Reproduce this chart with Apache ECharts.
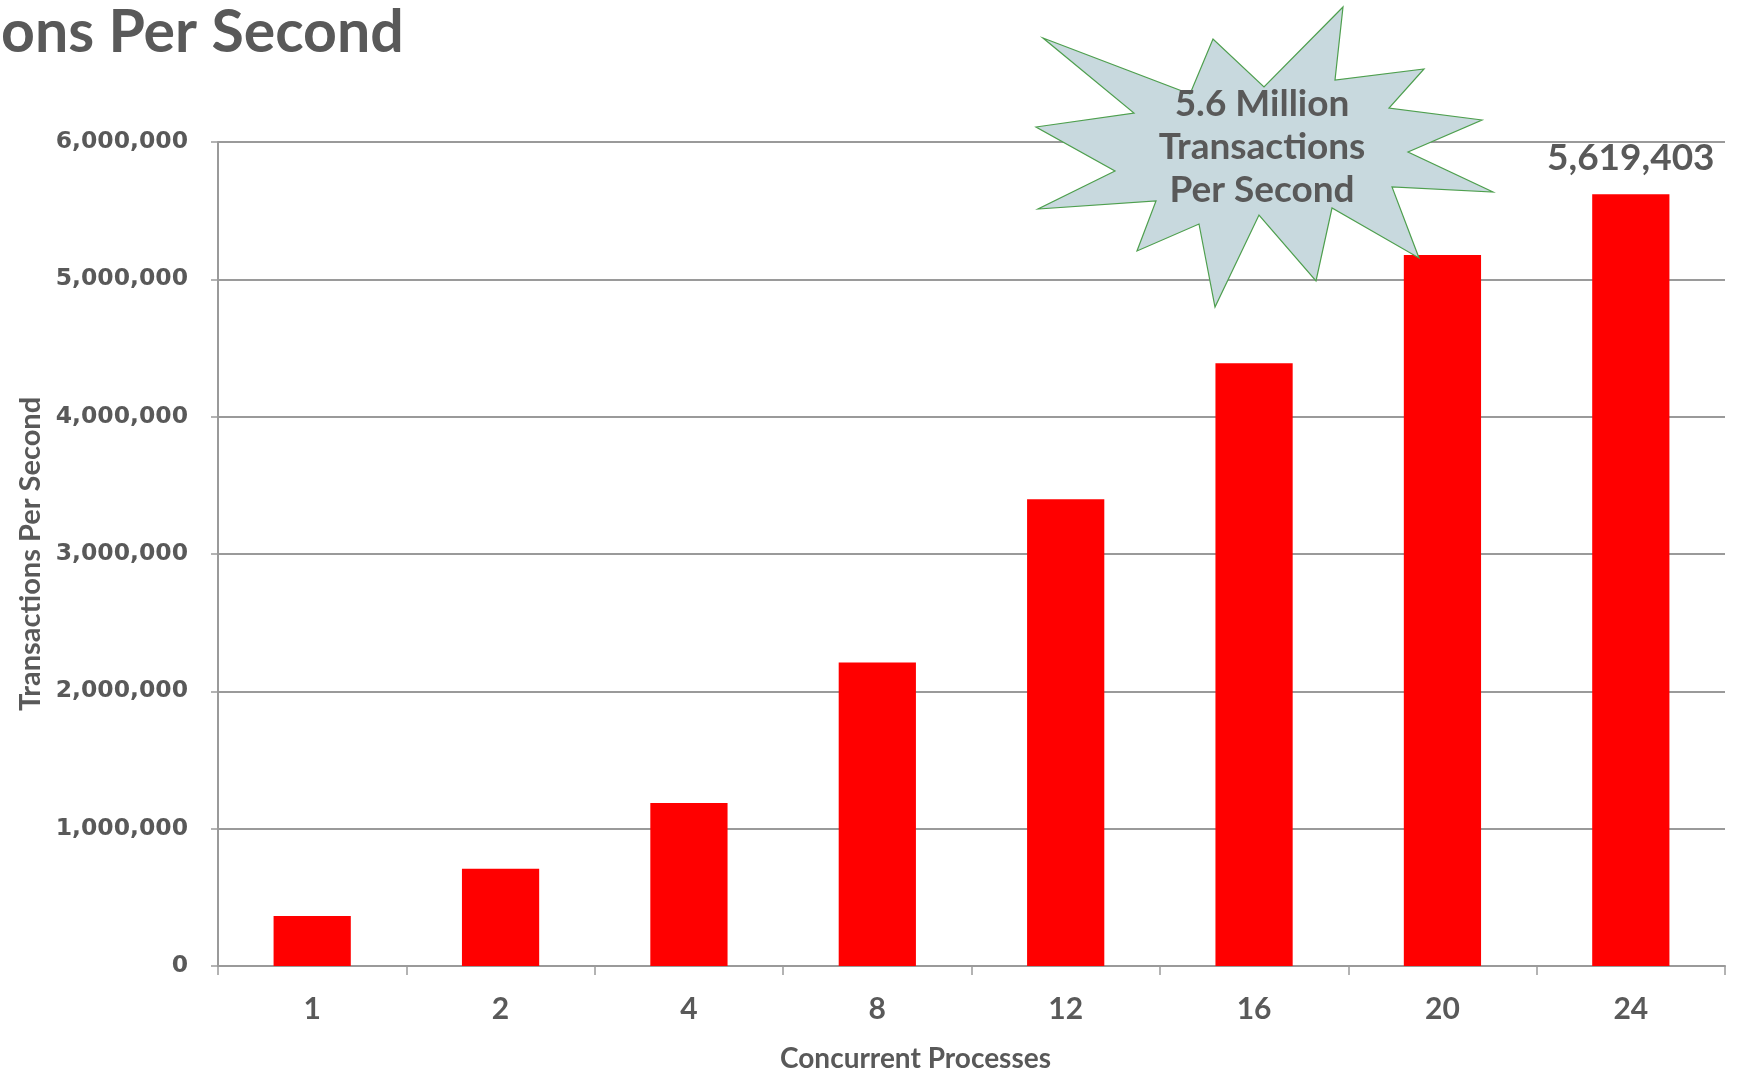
<!DOCTYPE html>
<html>
<head>
<meta charset="utf-8">
<script src="https://cdn.jsdelivr.net/npm/echarts@6/dist/echarts.min.js"></script>
<style>
html,body{margin:0;padding:0;background:#fff;}
#chart{width:1742px;height:1071px;}
</style>
</head>
<body>
<div id="chart"></div>
<script>
// ---- data ----
var categories = ['1', '2', '4', '8', '12', '16', '20', '24'];
var tpsValues = [364000, 708000, 1187000, 2210000, 3399000, 4389000, 5177000, 5619403];
var yTicks = [0, 1000000, 2000000, 3000000, 4000000, 5000000, 6000000];
var titleText = 'ons Per Second';
var calloutLines = ['5.6 Million', 'Transactions', 'Per Second'];
var xAxisName = 'Concurrent Processes';
var yAxisName = 'Transactions Per Second';
var labelledIndex = 7;

// starburst outline (annotation shape, pixel coordinates)
var starPoints = [
  [1043, 38], [1190, 94], [1213, 39], [1264, 87], [1343, 7], [1335, 80],
  [1424, 69], [1389, 108], [1482, 120], [1408, 152], [1493, 192], [1392, 187],
  [1419, 258], [1332, 208], [1316, 281], [1259, 215], [1215, 307], [1199, 224],
  [1137, 251], [1156, 201], [1038, 209], [1115, 171], [1036, 127], [1134, 113]
];

var GRAY = '#595959';
var LINE = '#9a9a9a';
var NARROW = "'Liberation Sans Narrow', 'Lato', sans-serif";

function fmt(v) { return v.toString().replace(/\B(?=(\d{3})+(?!\d))/g, ','); }

var chart = echarts.init(document.getElementById('chart'), null, {renderer: 'canvas'});

var barData = tpsValues.map(function (v, i) {
  if (i === labelledIndex) {
    return {
      value: v,
      label: {
        show: true, position: 'top', distance: 18,
        formatter: function (p) { return fmt(p.value); },
        fontFamily: 'Lato', fontWeight: 'bold', fontSize: 37, color: GRAY
      }
    };
  }
  return v;
});

var option = {
  animation: false,
  backgroundColor: '#ffffff',
  grid: {left: 218, right: 17, top: 142, bottom: 105, containLabel: false, outerBoundsMode: 'none'},
  xAxis: {
    type: 'category',
    data: categories,
    boundaryGap: true,
    name: xAxisName,
    nameLocation: 'middle',
    nameGap: 79,
    nameTextStyle: {fontFamily: NARROW, fontWeight: 'bold', fontSize: 28, color: GRAY, padding: [0, 112, 0, 0]},
    axisLine: {show: true, lineStyle: {color: LINE, width: 2}},
    axisTick: {show: true, alignWithLabel: false, length: 9, lineStyle: {color: LINE, width: 1.5}},
    axisLabel: {margin: 28, fontFamily: NARROW, fontWeight: 'bold', fontSize: 30, color: GRAY},
    splitLine: {show: false}
  },
  yAxis: {
    type: 'value',
    min: yTicks[0],
    max: yTicks[yTicks.length - 1],
    interval: yTicks[1] - yTicks[0],
    name: yAxisName,
    nameLocation: 'middle',
    nameRotate: 90,
    nameGap: 173,
    nameTextStyle: {fontFamily: NARROW, fontWeight: 'bold', fontSize: 29, color: GRAY},
    axisLine: {show: true, lineStyle: {color: LINE, width: 2}},
    axisTick: {show: true, length: 7, lineStyle: {color: LINE, width: 1.5}},
    axisLabel: {
      margin: 30, fontFamily: 'DejaVu Sans', fontWeight: 'bold', fontSize: 23.5, color: GRAY,
      formatter: function (v) { return fmt(v); }
    },
    splitLine: {show: true, lineStyle: {color: LINE, width: 2}}
  },
  series: [{
    type: 'bar',
    data: barData,
    barWidth: '41%',
    itemStyle: {color: '#ff0000'},
    z: 2
  }],
  graphic: [
    {
      type: 'text', left: 1, top: 3, z: 10,
      style: {text: titleText, fontFamily: 'Lato', fontWeight: 'bold', fontSize: 59, fill: GRAY}
    },
    {
      type: 'polygon', z: 20,
      shape: {points: starPoints},
      style: {fill: '#c8d9de', stroke: '#4e9f4e', lineWidth: 1.2}
    },
    {
      type: 'text', x: 1262, y: 147, z: 21,
      style: {
        text: calloutLines.join('\n'), align: 'center', verticalAlign: 'middle',
        lineHeight: 43, fontFamily: 'Lato', fontWeight: 'bold', fontSize: 37, fill: GRAY
      }
    }
  ]
};

chart.setOption(option);
</script>
</body>
</html>
